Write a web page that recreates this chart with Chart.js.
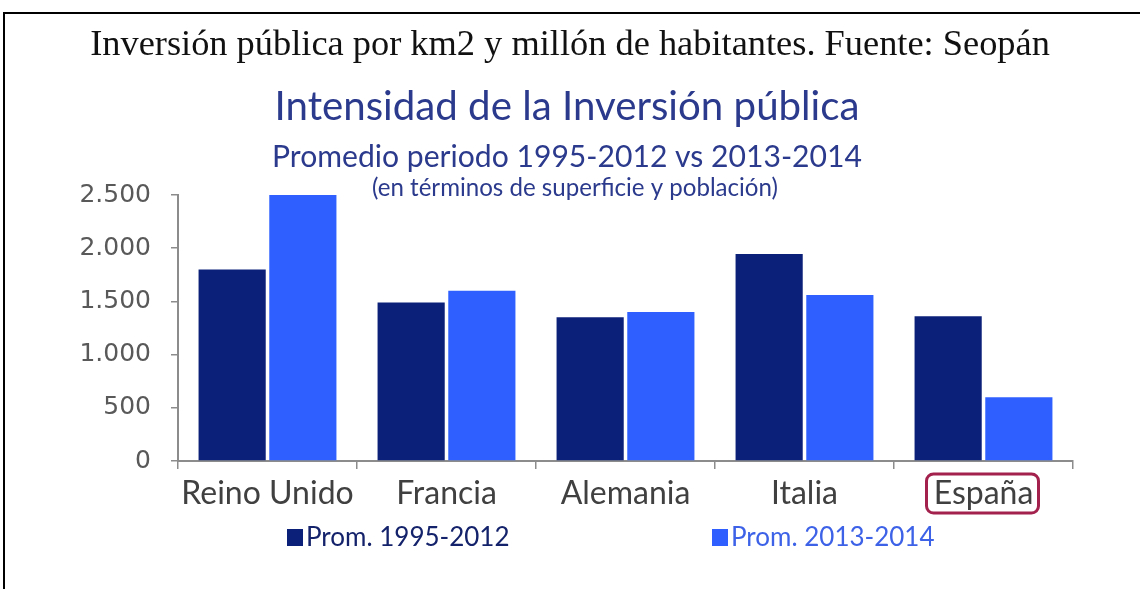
<!DOCTYPE html>
<html>
<head>
<meta charset="utf-8">
<script src="https://cdn.jsdelivr.net/npm/chart.js@4.4.1/dist/chart.umd.min.js"></script>
<style>
  html, body { margin: 0; padding: 0; background: #fff; }
  #wrap { position: relative; width: 1140px; height: 589px; }
  #frame { position: absolute; left: 3px; top: 12px; right: 0; bottom: 0;
           border-top: 2px solid #000; border-left: 2px solid #000; pointer-events: none; }
</style>
</head>
<body>
<div id="wrap">
  <canvas id="myChart" width="1140" height="589"></canvas>
  <div id="frame"></div>
</div>
<script>
// data
const categories = ['Reino Unido', 'Francia', 'Alemania', 'Italia', 'España'];
const prom1995_2012 = [1800, 1490, 1350, 1945, 1360];
const prom2013_2014 = [2510, 1600, 1400, 1560, 600];
const seriesNames = ['Prom. 1995-2012', 'Prom. 2013-2014'];
const yTickLabels = ['0', '500', '1.000', '1.500', '2.000', '2.500'];
const highlighted = 'España';

const mainTitle = 'Inversión pública por km2 y millón de habitantes. Fuente: Seopán';
const chartTitle = 'Intensidad de la Inversión pública';
const chartSubtitle = 'Promedio periodo 1995-2012 vs 2013-2014';
const chartNote = '(en términos de superficie y población)';

const DARK = '#0b2079';
const LIGHT = '#2f60ff';
const SANS = 'Lato, "Open Sans", sans-serif';
const SERIF = '"Liberation Serif", serif';

// set a font size so the text is exactly `width` wide
function fitFont(ctx, text, family, width) {
  ctx.font = '100px ' + family;
  const size = 100 * width / ctx.measureText(text).width;
  ctx.font = size.toFixed(2) + 'px ' + family;
}

// titles, highlighted label box and legend drawn on top
const extras = {
  id: 'extras',
  afterDraw(chart) {
    const ctx = chart.ctx;
    ctx.save();
    ctx.textAlign = 'center';
    ctx.textBaseline = 'alphabetic';

    ctx.fillStyle = '#111';
    fitFont(ctx, mainTitle, SERIF, 960);
    ctx.fillText(mainTitle, 570, 55);

    ctx.fillStyle = '#2b3a8c';
    fitFont(ctx, chartTitle, SANS, 585);
    ctx.fillText(chartTitle, 567, 120);
    fitFont(ctx, chartSubtitle, SANS, 590);
    ctx.fillText(chartSubtitle, 567, 167);
    fitFont(ctx, chartNote, SANS, 406);
    ctx.fillText(chartNote, 575, 196);

    // box round highlighted category label
    const xs = chart.scales.x;
    const cx = xs.getPixelForValue(categories.indexOf(highlighted));
    ctx.strokeStyle = '#a3214d';
    ctx.lineWidth = 3;
    ctx.beginPath();
    ctx.roundRect(cx - 57, 474, 112, 39, 7);
    ctx.stroke();

    // legend
    const legend = [
      {x: 287, text: '#13226a'},
      {x: 712, text: '#3d62e8'}
    ];
    ctx.textAlign = 'left';
    ctx.textBaseline = 'middle';
    ctx.font = '26px ' + SANS;
    chart.data.datasets.forEach((ds, i) => {
      const l = legend[i];
      ctx.fillStyle = ds.backgroundColor;
      ctx.fillRect(l.x, 529, 16, 17);
      ctx.fillStyle = l.text;
      ctx.fillText(ds.label, l.x + 19, 538);
    });
    ctx.restore();
  }
};

new Chart(document.getElementById('myChart').getContext('2d'), {
  type: 'bar',
  data: {
    labels: categories,
    datasets: [{
      label: seriesNames[0],
      data: prom1995_2012,
      backgroundColor: DARK,
      borderWidth: 0,
      categoryPercentage: 0.79,
      barPercentage: 0.95
    }, {
      label: seriesNames[1],
      data: prom2013_2014,
      backgroundColor: LIGHT,
      borderWidth: 0,
      categoryPercentage: 0.79,
      barPercentage: 0.95
    }]
  },
  options: {
    responsive: false,
    animation: false,
    devicePixelRatio: 1,
    layout: { padding: { top: 195, right: 67, bottom: 58, left: 0 } },
    plugins: {
      legend: { display: false },
      title: { display: false },
      tooltip: { enabled: false }
    },
    scales: {
      x: {
        grid: { display: true, drawOnChartArea: false, offset: true, tickLength: 8, color: '#8c8c8c', lineWidth: 1.5 },
        border: { color: '#8c8c8c', width: 2 },
        ticks: { color: '#404040', font: { family: SANS, size: 32 }, padding: 5 },
        afterFit(scale) { scale.height = 70; }
      },
      y: {
        min: 0,
        max: 2500,
        grid: { display: true, drawOnChartArea: false, tickLength: 7, color: '#8c8c8c', lineWidth: 1.5 },
        border: { color: '#8c8c8c', width: 2 },
        ticks: {
          stepSize: 500,
          color: '#595959',
          font: { family: '"DejaVu Sans", sans-serif', size: 25 },
          padding: 20,
          callback: (v, i) => yTickLabels[i]
        },
        afterFit(scale) { scale.width = 178; }
      }
    }
  },
  plugins: [extras]
});
</script>
</body>
</html>
